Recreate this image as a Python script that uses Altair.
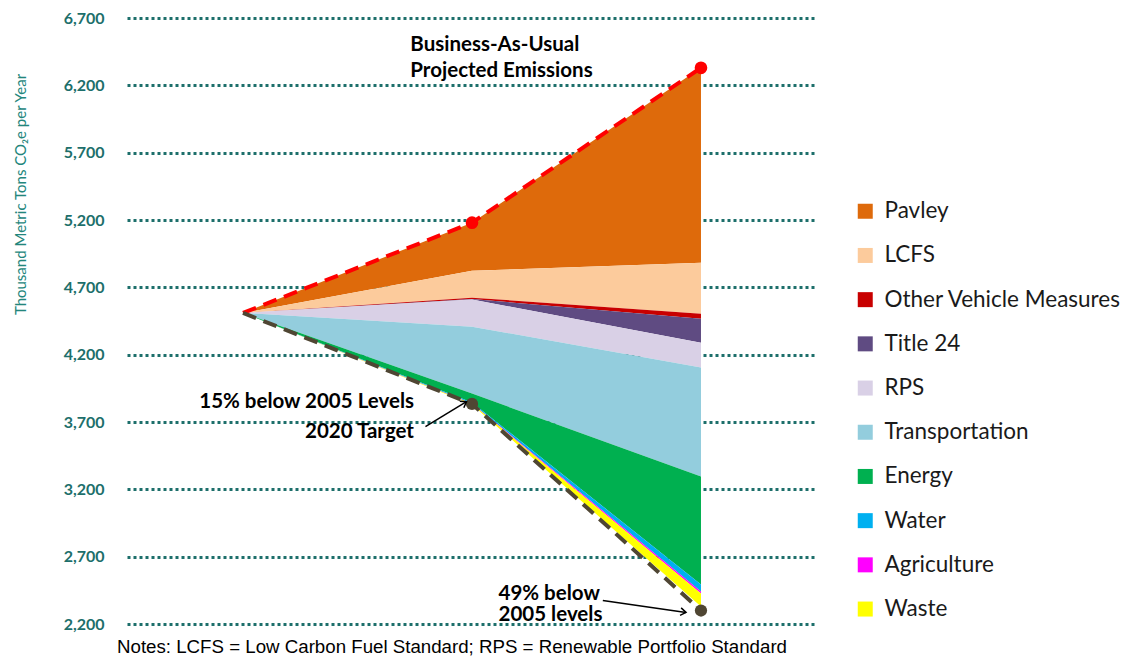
import altair as alt
import pandas as pd

# ---------------- data ----------------
years = [2005, 2020, 2035]
bau = [4510, 5180, 6330]            # Business-as-usual projected emissions
target = [4510, 3834, 2300]         # 2005 level, 15% below, 49% below

measures = ["Pavley", "LCFS", "Other Vehicle Measures", "Title 24", "RPS",
            "Transportation", "Energy", "Water", "Agriculture", "Waste"]
pavley = [0, 357, 1447]
lcfs = [0, 200, 379]
other_vehicle = [0, 10, 37]
title24 = [0, 3, 178]
rps = [0, 202, 185]
transportation = [0, 497, 809]
energy = [0, 66, 801]
water = [0, 7, 52]
agriculture = [0, 3, 15]
waste = [0, 5, 97]
reductions = [pavley, lcfs, other_vehicle, title24, rps,
              transportation, energy, water, agriculture, waste]

colors = ["#DE6A0B", "#FCCB9C", "#C80000", "#5F4B82", "#D9D0E6",
          "#93CDDD", "#00B050", "#00B0F0", "#FF00FF", "#FFFF00"]

y_ticks = [2200, 2700, 3200, 3700, 4200, 4700, 5200, 5700, 6200, 6700]

# annotation texts and their anchor points (year, value)
ann_text = ["Business-As-Usual", "Projected Emissions",
            "15% below 2005 Levels", "2020 Target",
            "49% below", "2005 levels"]
ann_year = [2015.96, 2015.96, 2016.2, 2016.2, 2021.74, 2021.74]
ann_value = [6500, 6307, 3851, 3629, 2422, 2266]
ann_align = ["left", "left", "right", "right", "left", "left"]

arrow_year = [2016.95, 2028.57]
arrow_value = [3665, 2375]
arrow_year2 = [2019.64, 2034.02]
arrow_value2 = [3851, 2286]
arrow_angle = [328.6, 8.2]

note = "Notes: LCFS = Low Carbon Fuel Standard; RPS = Renewable Portfolio Standard"

# ---------------- tables ----------------
rows = []
for i, yr in enumerate(years):
    top = bau[i]
    for k, (m, vals) in enumerate(zip(measures, reductions)):
        rows.append({"year": yr, "measure": m, "top": top,
                     "bottom": top - vals[i], "k": k})
        top -= vals[i]
bands = pd.DataFrame(rows)

bau_df = pd.DataFrame({"year": years, "value": bau})
tgt_df = pd.DataFrame({"year": years, "value": target})
ann_df = pd.DataFrame({"text": ann_text, "year": ann_year, "value": ann_value,
                       "align": ann_align})
arr_df = pd.DataFrame({"year": arrow_year, "value": arrow_value,
                       "year2": arrow_year2, "value2": arrow_value2,
                       "angle": arrow_angle})

xs = alt.Scale(domain=[1997.4, 2042.6], nice=False, zero=False)
ys = alt.Scale(domain=[2200, 6700], nice=False, zero=False)

teal = "#1D6F6B"

areas = alt.Chart(bands).mark_area(interpolate="linear").encode(
    x=alt.X("year:Q", scale=xs, axis=None),
    y=alt.Y("top:Q", scale=ys, stack=None,
            axis=alt.Axis(values=y_ticks, format=",d", grid=True,
                          title="Thousand Metric Tons CO₂e per Year",
                          titleX=-107, titleY=176)),
    y2="bottom:Q",
    color=alt.Color("measure:N",
                    scale=alt.Scale(domain=measures, range=colors),
                    legend=alt.Legend(title=None, orient="none",
                                      legendX=727, legendY=182)),
    order="k:Q",
)

bau_line = alt.Chart(bau_df).mark_line(
    color="#FF0000", strokeWidth=4, strokeDash=[14, 8]
).encode(x=alt.X("year:Q", scale=xs), y=alt.Y("value:Q", scale=ys))
bau_pts = alt.Chart(bau_df).transform_filter("datum.year > 2005").mark_circle(
    color="#FF0000", size=160, opacity=1
).encode(x=alt.X("year:Q", scale=xs), y=alt.Y("value:Q", scale=ys))

tgt_line = alt.Chart(tgt_df).mark_line(
    color="#4F4633", strokeWidth=4, strokeDash=[14, 8]
).encode(x=alt.X("year:Q", scale=xs), y=alt.Y("value:Q", scale=ys))
tgt_pts = alt.Chart(tgt_df).transform_filter("datum.year > 2005").mark_circle(
    color="#4F4633", size=150, opacity=1
).encode(x=alt.X("year:Q", scale=xs), y=alt.Y("value:Q", scale=ys))

def ann_layer(align):
    return alt.Chart(ann_df).transform_filter(
        alt.datum.align == align
    ).mark_text(font="Lato", fontWeight="bold", fontSize=20.5, color="#000000",
                align=align, baseline="middle").encode(
        x=alt.X("year:Q", scale=xs), y=alt.Y("value:Q", scale=ys), text="text:N")

arrows = alt.Chart(arr_df).mark_rule(color="#000000", strokeWidth=1.5).encode(
    x=alt.X("year:Q", scale=xs), y=alt.Y("value:Q", scale=ys),
    x2="year2:Q", y2="value2:Q")
heads = alt.Chart(arr_df).mark_point(
    shape="M-1,-0.7L0,0L-1,0.7", filled=False, color="#000000",
    strokeWidth=1.5, size=120, opacity=1
).encode(x=alt.X("year2:Q", scale=xs), y=alt.Y("value2:Q", scale=ys),
         angle=alt.Angle("angle:Q", scale=None))

chart = alt.layer(
    areas, bau_line, tgt_line, bau_pts, tgt_pts,
    ann_layer("left"), ann_layer("right"), arrows, heads
).properties(
    width=690, height=606,
    autosize=alt.AutoSizeParams(type="none"),
    padding={"left": 119, "top": 10, "right": 306, "bottom": 37},
    title=alt.TitleParams(text=note, orient="bottom", anchor="start",
                          frame="group",
                          font="Liberation Sans", fontSize=18.7,
                          fontWeight="normal", color="#000000",
                          offset=6, dx=-10),
).configure_view(stroke=None).configure_axisY(
    ticks=False, domain=False, labelFont="Lato", labelFontWeight="bold",
    labelFontSize=16, labelColor=teal, labelPadding=23,
    gridColor=teal, gridDash=[3, 3], gridWidth=3,
    titleFont="Lato", titleFontWeight="normal", titleFontSize=15,
    titleColor="#23867C", titleAngle=270, titleBaseline="middle",
    titleAlign="center",
).configure_legend(
    symbolType="square", symbolSize=225, symbolStrokeWidth=0,
    labelFont="Lato", labelFontSize=22.5, labelColor="#1A1A1A",
    rowPadding=21.2, labelOffset=8, padding=0, labelLimit=400,
)

chart.save("out.html", embed_options={"renderer": "svg", "actions": False})
